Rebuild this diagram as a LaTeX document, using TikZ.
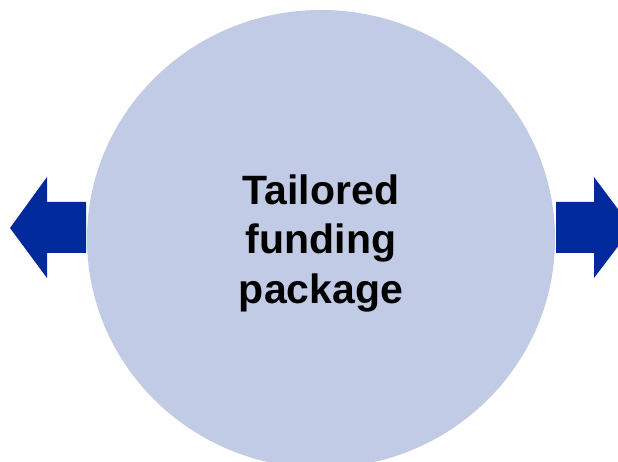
\documentclass[tikz,border=0pt]{standalone}
\usepackage{fontspec}
\setmainfont{Liberation Sans}
\usetikzlibrary{shapes.geometric}
\definecolor{discfill}{HTML}{C1CBE6}
\definecolor{arrowblue}{HTML}{00299B}
\tikzset{
  disc/.style={ellipse, fill=discfill, draw=none, inner sep=0pt, minimum width=468pt, minimum height=458pt},
  bigarrow/.style={fill=arrowblue, draw=none},
  label/.style={font=\fontsize{41}{49.5}\selectfont\bfseries, align=center, inner sep=0pt, text=black}
}
\begin{document}
\begin{tikzpicture}[x=1pt,y=-1pt]
\useasboundingbox (0,0) rectangle (618,462);
\clip (0,0) rectangle (618,462);
\node[disc] (circle) at (321,239) {};
\coordinate (ltip) at (10,228);
\coordinate (rtip) at (632,228);
\fill[bigarrow] (ltip) -- (47,177) -- (47,202) -- (86,202) -- (86,253) -- (47,253) -- (47,278) -- cycle;
\fill[bigarrow] (rtip) -- (594,177) -- (594,202) -- (556,202) -- (556,253) -- (594,253) -- (594,278) -- cycle;
\node[label] (txt) at (321,243) {Tailored\\funding\\package};
\end{tikzpicture}
\end{document}
